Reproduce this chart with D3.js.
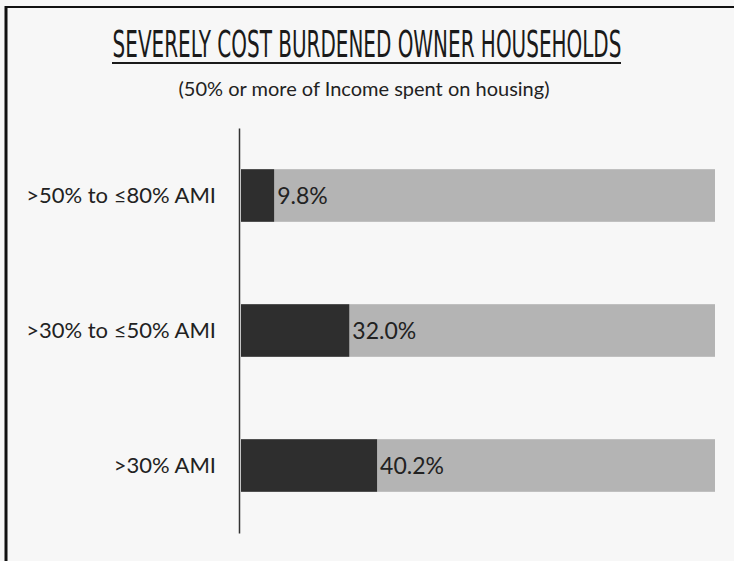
<!DOCTYPE html>
<html>
<head>
<meta charset="utf-8">
<script src="https://cdn.jsdelivr.net/npm/d3@7"></script>
<style>
  body { margin: 0; background: #fff; }
  svg { display: block; }
</style>
</head>
<body>
<svg width="734" height="561"></svg>
<script>
// Chart data
const categories = [">50% to \u226480% AMI", ">30% to \u226450% AMI", ">30% AMI"];
const values = [9.8, 32.0, 40.2];
const valueLabels = ["9.8%", "32.0%", "40.2%"];
const axisMax = 140; // gray track runs out to the end of the scale

const svg = d3.select("svg"),
  width = +svg.attr("width"),
  height = +svg.attr("height");

const margin = { top: 128, right: 19, bottom: 28, left: 241 };

// page background + frame (top rule and thick left rule)
svg.append("rect")
  .attr("width", width)
  .attr("height", height)
  .attr("fill", "#f7f7f7");

svg.append("line")
  .attr("x1", 5).attr("x2", width)
  .attr("y1", 7).attr("y2", 7)
  .attr("stroke", "#111")
  .attr("stroke-width", 2);

svg.append("line")
  .attr("x1", 6).attr("x2", 6)
  .attr("y1", 6).attr("y2", height)
  .attr("stroke", "#111")
  .attr("stroke-width", 3);

// Title (condensed, thin, underlined)
svg.append("text")
  .attr("x", 367)
  .attr("y", 57)
  .attr("text-anchor", "middle")
  .attr("transform", "translate(367,57) scale(0.6,1) translate(-367,-57)")
  .style("font-family", "'DejaVu Sans Condensed', sans-serif")
  .style("font-weight", "300")
  .style("font-size", "37px")
  .style("fill", "#1a1a1a")
  .text("SEVERELY COST BURDENED OWNER HOUSEHOLDS");

svg.append("line")
  .attr("x1", 112).attr("x2", 621)
  .attr("y1", 63).attr("y2", 63)
  .attr("stroke", "#1a1a1a")
  .attr("stroke-width", 2);

svg.append("text")
  .attr("x", 364)
  .attr("y", 96)
  .attr("text-anchor", "middle")
  .style("font-family", "Lato, sans-serif")
  .style("font-size", "20px")
  .style("fill", "#222")
  .text("(50% or more of Income spent on housing)");

// Scales
const x = d3.scaleLinear()
  .domain([0, axisMax])
  .range([margin.left, width - margin.right]);

const y = d3.scaleBand()
  .domain(categories)
  .range([margin.top, height - margin.bottom])
  .paddingInner(0.61)
  .paddingOuter(0.305);

const g = svg.append("g");

// gray remainder bars
g.selectAll(".track")
  .data(categories)
  .join("rect")
  .attr("class", "track")
  .attr("x", (d, i) => x(values[i]))
  .attr("y", d => y(d))
  .attr("width", (d, i) => x(axisMax) - x(values[i]))
  .attr("height", y.bandwidth())
  .attr("fill", "#b4b4b4");

// dark value bars
g.selectAll(".bar")
  .data(categories)
  .join("rect")
  .attr("class", "bar")
  .attr("x", x(0))
  .attr("y", d => y(d))
  .attr("width", (d, i) => x(values[i]) - x(0))
  .attr("height", y.bandwidth())
  .attr("fill", "#2e2e2e");

// value labels
g.selectAll(".val")
  .data(categories)
  .join("text")
  .attr("class", "val")
  .attr("x", (d, i) => x(values[i]) + 3)
  .attr("y", d => y(d) + y.bandwidth() / 2)
  .attr("dy", "0.36em")
  .style("font-family", "Lato, sans-serif")
  .style("font-size", "23px")
  .style("fill", "#222")
  .text((d, i) => valueLabels[i]);

// category axis
const yAxis = svg.append("g")
  .attr("transform", `translate(${margin.left - 2},0)`)
  .call(d3.axisLeft(y).tickSize(0).tickPadding(23));

yAxis.select(".domain")
  .attr("stroke", "#333")
  .attr("stroke-width", 1.5);

yAxis.selectAll("text")
  .style("font-family", "Lato, sans-serif")
  .style("font-size", "22px")
  .style("fill", "#222");
</script>
</body>
</html>
